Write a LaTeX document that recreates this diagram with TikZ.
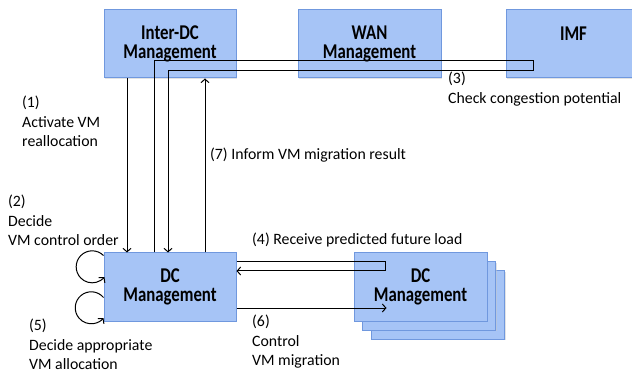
\documentclass[tikz,border=0pt]{standalone}
\usepackage{fontspec}
\setmainfont{Carlito}
\newfontfamily\boxfont[FakeStretch=0.8]{Carlito}
\usepackage{tikz}
\usetikzlibrary{arrows.meta,positioning,shadows}
\definecolor{boxfill}{RGB}{166,196,246}
\definecolor{boxline}{RGB}{112,152,222}

\begin{document}
\begin{tikzpicture}[
    x=1pt, y=-1pt,
    mgmt/.style={draw=boxline, fill=boxfill, line width=1pt, minimum height=68pt,
        inner sep=0pt, align=center, font=\boxfont\bfseries\fontsize{21}{19}\selectfont,
        drop shadow={shadow xshift=1.2pt, shadow yshift=-1.2pt, fill=black!22}},
    lbl/.style={inner sep=0pt, align=left, font=\fontsize{15.8}{19.5}\selectfont},
    arr/.style={-{Straight Barb[length=3.5pt, width=8pt]}, line width=1pt}
]
\useasboundingbox (0,0) rectangle (632,374);

% management boxes
\node[mgmt, minimum width=132pt] (idc) at (170,44) {Inter-DC\\Management};
\node[mgmt, minimum width=143pt, right=61pt of idc] (wan) {WAN\\Management};
\node[mgmt, minimum width=135pt, right=64pt of wan] (imf) {IMF\\[2pt]};
\node[mgmt, minimum width=132pt] (dc) at (170,287) {DC\\Management};

% stacked remote DCs
\node[mgmt, minimum width=133pt] (dcr3) at (438,305) {};
\node[mgmt, minimum width=133pt] (dcr2) at (429,296) {};
\node[mgmt, minimum width=133pt] (dcr) at (420.5,287) {DC\\Management};

% (1) and (7)
\draw[arr] ([xshift=-43pt]idc.south) -- ([xshift=-43pt]dc.north);
\draw[arr] ([xshift=35pt]dc.north) -- ([xshift=35pt]idc.south);

% (3) check congestion via IMF
\draw[arr] ([xshift=-16pt]dc.north) |- ([xshift=-40pt,yshift=18pt]imf.south)
    -- ([xshift=-40pt,yshift=8pt]imf.south) -| ([xshift=-2pt]dc.north);

% (4) and (6)
\draw[arr] ([yshift=25pt]dc.east) -| ([xshift=32pt,yshift=16pt]dcr.west)
    -- ([yshift=16pt]dc.east);
\draw[arr] ([yshift=-21pt]dc.east) -- ([xshift=33pt,yshift=-21pt]dcr.west);

% (2) and (5) self loops
\draw[arr] ([yshift=-3pt]dc.north west) arc[start angle=-45, end angle=-320, radius=16];
\draw[arr] ([yshift=-45pt]dc.north west) arc[start angle=-40, end angle=-320, radius=16];

% labels
\node[lbl, anchor=north west] (l1) at (22,96) {(1)\\Activate VM\\reallocation};
\node[lbl, anchor=north west] (l2) at (8,195) {(2)\\Decide\\VM control order};
\node[lbl, anchor=north west] (l3) at (448,72) {(3)\\Check congestion potential};
\node[lbl, anchor=west] (l7) at (210,155) {(7) Inform VM migration result};
\node[lbl, anchor=west] (l4) at (252,240) {(4) Receive predicted future load};
\node[lbl, anchor=north west] (l5) at (29,319) {(5)\\Decide appropriate\\VM allocation};
\node[lbl, anchor=north west] (l6) at (252,315) {(6)\\Control\\VM migration};
\end{tikzpicture}
\end{document}
